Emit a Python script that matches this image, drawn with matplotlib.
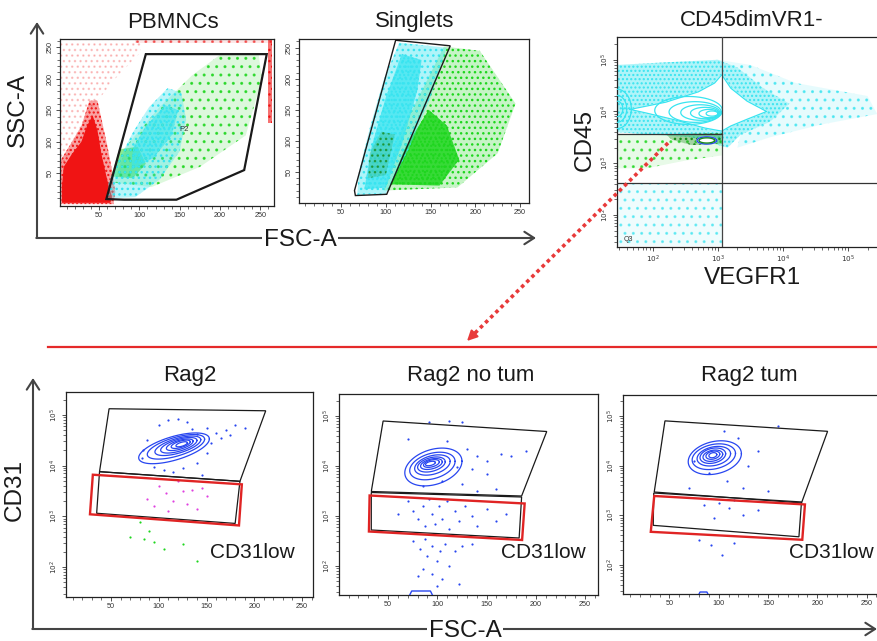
import numpy as np
import matplotlib
matplotlib.use("Agg")
import matplotlib.pyplot as plt
from matplotlib.patches import Polygon
from matplotlib.colors import to_rgba

plt.rcParams['font.family'] = ['Liberation Sans', 'DejaVu Sans']
plt.rcParams['hatch.linewidth'] = 1.0

W, H = 877, 641

RED = '#f01414'
CYAN = '#38e4f0'
GREEN = '#1ed61e'
DKGREEN = '#1c8c1c'
BLUE = '#2846f0'
MAGENTA = '#e040e0'
GATE_RED = '#e02424'

# ---- PBMNCs (FSC-A vs SSC-A, linear 0-262) ----
pbmc_gate = [(108, 239), (258, 239), (230, 55), (146, 8), (81, 8), (59, 9)]
pbmc_red_sparse = [(2, 60), (30, 110), (45, 160), (70, 200), (100, 240), (105, 262),
                   (2, 262)]
pbmc_red_halo = [(2, 1), (68, 1), (70, 20), (66, 55), (60, 95), (54, 130), (48, 165),
                 (38, 165), (28, 125), (14, 95), (2, 70)]
pbmc_red_core = [(4, 3), (64, 3), (66, 12), (60, 40), (53, 80), (48, 118), (42, 142),
                 (35, 125), (28, 100), (16, 80), (6, 60), (4, 30)]
pbmc_red_right = [(259, 130), (265, 130), (265, 263), (259, 263)]
pbmc_red_top = [(95, 257), (265, 257), (265, 263), (95, 263)]
pbmc_cyan_halo = [(60, 10), (95, 12), (125, 40), (150, 85), (158, 135), (152, 178),
                  (135, 185), (112, 155), (92, 115), (72, 65), (62, 35)]
pbmc_cyan_core = [(90, 55), (118, 75), (140, 110), (148, 150), (132, 158), (108, 125), (92, 90)]
pbmc_green_halo = [(68, 35), (115, 28), (175, 60), (232, 110), (252, 200), (248, 238),
                   (200, 238), (165, 205), (125, 155), (85, 95)]
pbmc_green_core = [(65, 45), (92, 42), (108, 65), (98, 92), (75, 88)]

# ---- Singlets ----
sing_gate = [(111, 262), (172, 253), (101, 14), (66, 12), (65, 20)]
sing_cyan_halo = [(68, 13), (100, 15), (125, 85), (150, 170), (168, 250), (115, 258),
                  (98, 200), (82, 120), (70, 50)]
sing_cyan_core = [(76, 22), (100, 25), (118, 95), (135, 180), (140, 230), (118, 240),
                  (100, 170), (84, 90)]
sing_green_halo = [(98, 20), (180, 25), (225, 80), (245, 160), (205, 245), (165, 252),
                   (140, 180), (112, 100)]
sing_green_core = [(105, 30), (160, 28), (182, 70), (168, 125), (148, 150), (122, 90)]
sing_dkgreen = [(80, 40), (100, 45), (110, 110), (95, 115), (82, 80)]

# ---- CD45 vs VEGFR1 (values in decades) ----
cd_cyan_dense = [(1.45, 3.6), (1.45, 4.9), (2.2, 4.95), (3.0, 5.0), (3.3, 4.85),
                 (3.7, 4.45), (4.1, 4.15), (3.8, 3.8), (3.35, 3.55), (3.15, 3.3), (2.6, 3.5)]
cd_cyan_sparse = [(3.0, 5.0), (3.5, 4.9), (4.2, 4.55), (5.3, 4.3), (5.45, 3.95), (4.6, 3.75),
                  (3.8, 3.5), (3.3, 3.3), (3.35, 3.55), (3.8, 3.8), (4.1, 4.15), (3.7, 4.45),
                  (3.3, 4.85)]
cd_cyan_low = [(1.45, 1.4), (3.06, 1.4), (3.06, 2.62), (1.45, 2.62)]
cd_outer = [(1.65, 4.04), (2.2, 4.18), (2.7, 4.38), (2.95, 4.55), (3.06, 4.71), (3.2, 4.45),
            (3.45, 4.2), (3.75, 4.0), (3.45, 3.85), (3.2, 3.72), (3.06, 3.62), (2.8, 3.68),
            (2.3, 3.85), (1.9, 3.97)]
cd_ell_cx = [2.55, 2.65, 2.73, 2.8, 2.86, 2.91]
cd_ell_cy = [4.02, 3.99, 3.98, 3.97, 3.96, 3.96]
cd_ell_rx = [0.52, 0.40, 0.30, 0.22, 0.15, 0.09]
cd_ell_ry = [0.27, 0.20, 0.15, 0.11, 0.08, 0.05]
cd_left_rx = [0.22, 0.15, 0.09]
cd_left_ry = [0.38, 0.26, 0.15]
cd_green_sparse = [(1.45, 3.56), (3.06, 3.56), (3.06, 3.15), (2.5, 3.05), (1.9, 2.9), (1.45, 2.9)]
cd_green_dense = [(2.2, 3.56), (3.06, 3.58), (3.06, 3.38), (2.6, 3.35), (2.3, 3.45)]
cd_vgate = 3.06
cd_hgate_hi = 3.56
cd_hgate_lo = 2.62

# ---- Rag2 panels (FSC-A vs CD31 decades) ----
rag2_gate = [(48, 5.12), (212, 5.08), (185, 3.69), (38, 3.88)]
rag2_low = [(38, 3.88), (185, 3.69), (180, 2.86), (35, 3.06)]
rag2_red = [(31, 3.82), (187, 3.63), (184, 2.82), (28, 3.04)]
rag2_cx = [116, 118, 120, 121, 122, 123, 124]
rag2_cy = [4.34, 4.37, 4.39, 4.40, 4.41, 4.42, 4.42]
rag2_rx = [37, 30, 24, 19, 14, 10, 6]
rag2_ry = [0.24, 0.19, 0.15, 0.12, 0.09, 0.065, 0.04]
rag2_blue = [(100, 4.8), (130, 4.85), (150, 4.75), (160, 4.65), (170, 4.7), (140, 4.62),
             (165, 4.55), (88, 4.5), (84, 4.3), (95, 3.97), (105, 3.92), (125, 3.96),
             (140, 4.05), (150, 4.25), (175, 4.6), (180, 4.8), (190, 4.75), (110, 4.9),
             (82, 4.15), (135, 4.72), (155, 4.45), (115, 3.88), (145, 3.82), (120, 4.92)]
rag2_magenta = [(108, 3.45), (115, 3.3), (125, 3.5), (135, 3.52), (150, 3.4), (95, 3.2),
                (110, 3.1), (130, 3.25), (145, 3.56), (100, 3.6), (120, 3.7), (140, 3.15), (88, 3.35)]
rag2_green = [(80, 2.88), (90, 2.72), (85, 2.55), (95, 2.5), (105, 2.35), (125, 2.45),
              (140, 2.12), (70, 2.6)]

notum_gate = [(45, 4.9), (211, 4.69), (185.5, 3.4), (33, 3.49)]
notum_low = [(33, 3.47), (185.5, 3.38), (183, 2.56), (33, 2.72)]
notum_red = [(31.3, 3.41), (188.6, 3.25), (186, 2.52), (30.6, 2.69)]
notum_cx = [96, 95, 95, 94, 94, 94, 93]
notum_cy = [3.98, 4.0, 4.02, 4.03, 4.04, 4.05, 4.05]
notum_rx = [29, 23, 18, 14, 11, 8, 5]
notum_ry = [0.36, 0.26, 0.19, 0.14, 0.10, 0.07, 0.04]
notum_blue = [(92, 4.88), (112, 4.9), (125, 4.88), (70, 4.55), (110, 4.5), (130, 4.35),
              (140, 4.2), (150, 4.1), (165, 4.25), (175, 4.2), (120, 3.98), (135, 3.95),
              (150, 3.85), (105, 3.7), (125, 3.65), (85, 3.6), (160, 3.55), (140, 3.5), (190, 4.3),
              (60, 3.05), (70, 3.3), (75, 3.1), (80, 2.95), (85, 3.2), (88, 2.8), (92, 3.35),
              (95, 3.05), (98, 2.85), (102, 3.2), (105, 2.95), (110, 3.3), (112, 2.75),
              (118, 3.1), (122, 2.9), (128, 3.2), (135, 3.0), (140, 2.8), (150, 3.15),
              (160, 2.9), (170, 3.05), (75, 2.5), (82, 2.35), (88, 2.55), (90, 2.2),
              (95, 2.4), (100, 2.1), (103, 2.3), (108, 2.45), (112, 2.0), (118, 2.3),
              (125, 2.4), (85, 1.95), (95, 1.85), (105, 1.75), (122, 1.65), (80, 1.8),
              (135, 2.45), (100, 1.6)]
notum_base = [(72, 1.42), (74, 1.5), (93, 1.5), (95, 1.42)]

tum_gate = [(45.4, 4.9), (210.5, 4.69), (184, 3.25), (34.5, 3.47)]
tum_low = [(34, 3.45), (184, 3.27), (181.4, 2.57), (33.5, 2.8)]
tum_red = [(34.5, 3.39), (187.5, 3.22), (184.8, 2.51), (31, 2.67)]
tum_cx = [96, 95, 95, 94, 94, 94, 94]
tum_cy = [4.16, 4.18, 4.19, 4.2, 4.2, 4.21, 4.21]
tum_rx = [27, 22, 17, 13, 10, 7, 4]
tum_ry = [0.33, 0.25, 0.19, 0.15, 0.11, 0.08, 0.05]
tum_blue = [(105, 4.7), (120, 4.55), (160, 4.8), (140, 4.3), (75, 4.1), (130, 4.0),
            (90, 3.85), (108, 3.7), (125, 3.55), (150, 3.5), (70, 3.55), (85, 3.2),
            (100, 3.25), (110, 3.15), (115, 3.3), (125, 3.0), (95, 2.95), (140, 3.1),
            (80, 2.5), (92, 2.4), (103, 2.2), (115, 2.45)]
tum_base = [(80, 1.42), (81, 1.46), (88, 1.46), (89, 1.42)]

lin_ticks = [50, 100, 150, 200, 250]
dec_ticks = [2, 3, 4, 5]


def px_rect(l, t, r, b):
    return [l / W, 1 - b / H, (r - l) / W, (b - t) / H]


def cloud(ax, verts, color, alpha, hatch=None, z=1, hatch_alpha=1.0):
    ax.add_patch(Polygon(verts, closed=True, fc=to_rgba(color, alpha),
                         ec=to_rgba(color, hatch_alpha), lw=0, hatch=hatch, zorder=z))


def gate(ax, verts, color='#1a1a1a', lw=1.0, z=4):
    ax.add_patch(Polygon(verts, closed=True, fill=False, ec=color, lw=lw, zorder=z))


def egg(cx, cy, rx, ry, shear=0.0, n=80):
    t = np.linspace(0, 2 * np.pi, n)
    x = cx + rx * np.cos(t)
    y = cy + ry * np.sin(t) + shear * rx * np.cos(t)
    return x, y


def contours(ax, cxs, cys, rxs, rys, color, shear=0.0, lw=0.9):
    x0, y0 = egg(cxs[0], cys[0], rxs[0], rys[0], shear)
    ax.fill(x0, y0, color='white', zorder=2)
    for cx, cy, rx, ry in zip(cxs, cys, rxs, rys):
        x, y = egg(cx, cy, rx, ry, shear)
        ax.plot(x, y, color=color, lw=lw, zorder=3)


def style(ax, xlim, ylim, xlog=False, ylog=False):
    for axis, log, rot, lim in ((ax.xaxis, xlog, 0, xlim), (ax.yaxis, ylog, 90, ylim)):
        if log:
            axis.set_ticks(dec_ticks)
            axis.set_ticklabels(['$10^{%d}$' % d for d in dec_ticks], rotation=rot)
            minor = [d + np.log10(k) for d in range(1, 6) for k in range(2, 10)]
        else:
            axis.set_ticks(lin_ticks)
            axis.set_ticklabels([str(v) for v in lin_ticks], rotation=rot)
            minor = [v for v in range(10, 270, 10) if v % 50]
        axis.set_ticks([m for m in minor if lim[0] < m < lim[1]], minor=True)
    ax.set_xlim(xlim)
    ax.set_ylim(ylim)
    for lab in ax.get_yticklabels():
        lab.set_va('center')
    ax.tick_params(which='major', direction='out', length=3, width=0.6, labelsize=5.2,
                   pad=1.5, colors='#333333')
    ax.tick_params(which='minor', direction='out', length=2, width=0.5, colors='#333333')
    for sp in ax.spines.values():
        sp.set_linewidth(0.9)
        sp.set_color('#222222')


fig = plt.figure(figsize=(W / 100, H / 100), dpi=100)

# PBMNCs
ax1 = fig.add_axes(px_rect(60, 39, 274, 206))
cloud(ax1, pbmc_red_sparse, RED, 0.0, '...', hatch_alpha=0.22)
cloud(ax1, pbmc_red_halo, RED, 0.4, '....')
cloud(ax1, pbmc_red_core, RED, 1.0)
cloud(ax1, pbmc_red_right, RED, 0.6, '...')
cloud(ax1, pbmc_red_top, RED, 0.1, '..', hatch_alpha=0.5)
cloud(ax1, pbmc_green_halo, GREEN, 0.15, '..', hatch_alpha=0.8)
cloud(ax1, pbmc_green_core, GREEN, 0.5, '...')
cloud(ax1, pbmc_cyan_halo, CYAN, 0.35, '...', z=1.5)
cloud(ax1, pbmc_cyan_core, CYAN, 0.6, '....', z=1.6)
gate(ax1, pbmc_gate, lw=1.6)
ax1.text(156, 120, 'P2', fontsize=5.5, ha='center', va='center', color='#333333', zorder=5)
style(ax1, (1.5, 267), (-2, 263))

# Singlets
ax2 = fig.add_axes(px_rect(299, 39, 529, 203))
cloud(ax2, sing_green_halo, GREEN, 0.25, '...')
cloud(ax2, sing_green_core, GREEN, 0.85, '....')
cloud(ax2, sing_cyan_halo, CYAN, 0.4, '...', z=1.5)
cloud(ax2, sing_cyan_core, CYAN, 0.75, '....', z=1.6)
cloud(ax2, sing_dkgreen, DKGREEN, 0.2, '...', z=1.7, hatch_alpha=0.7)
gate(ax2, sing_gate, lw=1.0)
style(ax2, (3, 260), (0, 264))

# CD45dimVR1-
ax3 = fig.add_axes(px_rect(617, 37, 900, 247))
cloud(ax3, cd_cyan_dense, CYAN, 0.4, '....')
cloud(ax3, cd_cyan_sparse, CYAN, 0.12, '..', hatch_alpha=0.7)
cloud(ax3, cd_cyan_low, CYAN, 0.08, '..', hatch_alpha=0.6)
cloud(ax3, cd_green_sparse, GREEN, 0.1, '..', hatch_alpha=0.7)
cloud(ax3, cd_green_dense, DKGREEN, 0.35, '...')
ox, oy = zip(*cd_outer)
ax3.fill(ox, oy, color='white', zorder=2)
ax3.plot(list(ox) + [ox[0]], list(oy) + [oy[0]], color=CYAN, lw=0.9, zorder=3)
for cx, cy, rx, ry in zip(cd_ell_cx, cd_ell_cy, cd_ell_rx, cd_ell_ry):
    x, y = egg(cx, cy, rx, ry)
    ax3.plot(x, y, color=CYAN, lw=0.9, zorder=3)
for rx, ry in zip(cd_left_rx, cd_left_ry):
    x, y = egg(1.45, 4.05, rx, ry)
    ax3.plot(x, y, color=CYAN, lw=0.9, zorder=3)
x, y = egg(2.83, 3.44, 0.15, 0.07)
ax3.fill(x, y, color='white', zorder=2)
ax3.plot(x, y, color=BLUE, lw=1.0, zorder=3)
x, y = egg(2.83, 3.44, 0.12, 0.05)
ax3.plot(x, y, color=DKGREEN, lw=1.0, zorder=3)
ax3.axvline(cd_vgate, color='#444444', lw=0.9, zorder=4)
ax3.plot([1.4, cd_vgate], [cd_hgate_hi, cd_hgate_hi], color='#333333', lw=0.9, zorder=4)
ax3.axhline(cd_hgate_lo, color='#333333', lw=0.9, zorder=4)
ax3.text(1.55, 1.5, 'Q3', fontsize=5, color='#333333', zorder=5)
style(ax3, (1.45, 5.8), (1.38, 5.44), xlog=True, ylog=True)

# Rag2 panels
panels = [
    (px_rect(66, 392, 313, 597), (2.9, 261.5), (1.41, 5.45), rag2_gate, rag2_low, rag2_red,
     (rag2_cx, rag2_cy, rag2_rx, rag2_ry, 0.005), None),
    (px_rect(339, 394, 598, 595), (0.25, 263), (1.42, 5.44), notum_gate, notum_low, notum_red,
     (notum_cx, notum_cy, notum_rx, notum_ry, 0.004), notum_base),
    (px_rect(623, 395, 880, 594), (2.8, 263.7), (1.42, 5.42), tum_gate, tum_low, tum_red,
     (tum_cx, tum_cy, tum_rx, tum_ry, 0.003), tum_base),
]
bottom_axes = []
for rect, xl, yl, g_up, g_low, g_red, ctr, base in panels:
    ax = fig.add_axes(rect)
    cxs, cys, rxs, rys, sh = ctr
    contours(ax, cxs, cys, rxs, rys, BLUE, shear=sh)
    gate(ax, g_up, lw=0.9)
    gate(ax, g_low, lw=0.9)
    gate(ax, g_red, color=GATE_RED, lw=1.7, z=4.5)
    if base is not None:
        bx, by = zip(*base)
        ax.plot(bx, by, color=BLUE, lw=1.0, zorder=3)
    style(ax, xl, yl, ylog=True)
    bottom_axes.append(ax)

for ax, pts, col in ((bottom_axes[0], rag2_blue, BLUE), (bottom_axes[0], rag2_magenta, MAGENTA),
                     (bottom_axes[0], rag2_green, GREEN), (bottom_axes[1], notum_blue, BLUE),
                     (bottom_axes[2], tum_blue, BLUE)):
    px_, py_ = zip(*pts)
    ax.scatter(px_, py_, s=2.5, color=col, lw=0, zorder=3.5)

# overlay for labels and arrows (pixel coordinates)
ov = fig.add_axes([0, 0, 1, 1], zorder=10)
ov.set_xlim(0, W)
ov.set_ylim(H, 0)
ov.axis('off')
ov.patch.set_alpha(0)

AX_COL = '#444444'
arrow = dict(arrowstyle='->,head_length=0.7,head_width=0.45', lw=1.5, color=AX_COL,
             shrinkA=0, shrinkB=0)
ov.annotate('', xy=(37, 22), xytext=(37, 238), arrowprops=arrow)
ov.annotate('', xy=(536, 238), xytext=(36.3, 238), arrowprops=arrow)
ov.annotate('', xy=(33, 378), xytext=(33, 629), arrowprops=arrow)
ov.annotate('', xy=(877, 629), xytext=(32.3, 629), arrowprops=arrow)

txt = dict(color='#1a1a1a', ha='center', va='center')
ov.text(18, 110, 'SSC-A', fontsize=17.5, rotation=90, **txt)
ov.text(300, 240, 'FSC-A', fontsize=17.5, bbox=dict(fc='white', ec='none', pad=1), **txt)
ov.text(15, 490, 'CD31', fontsize=17.5, rotation=90, **txt)
ov.text(465, 631, 'FSC-A', fontsize=17.5, bbox=dict(fc='white', ec='none', pad=1), **txt)
ov.text(585, 140, 'CD45', fontsize=17.5, rotation=90, **txt)
ov.text(752, 278, 'VEGFR1', fontsize=17.5, **txt)

ov.text(173, 22, 'PBMNCs', fontsize=16, **txt)
ov.text(415, 22, 'Singlets', fontsize=16, **txt)
ov.text(752, 20, 'CD45dimVR1-', fontsize=16, **txt)
ov.text(190, 375, 'Rag2', fontsize=16, **txt)
ov.text(471, 376, 'Rag2 no tum', fontsize=16, **txt)
ov.text(749, 376, 'Rag2 tum', fontsize=16, **txt)

ov.text(252, 553, 'CD31low', fontsize=15, **txt)
ov.text(543, 553, 'CD31low', fontsize=15, **txt)
ov.text(831, 553, 'CD31low', fontsize=15, **txt)

# red dotted link and separator
ov.plot([668, 474], [143, 334], color='#e83a3a', lw=2.6, ls=(0, (1, 1)))
ov.annotate('', xy=(467, 341), xytext=(476, 332),
            arrowprops=dict(arrowstyle='-|>,head_length=0.6,head_width=0.3', color='#e83a3a',
                            lw=1.5, shrinkA=0, shrinkB=0))
ov.plot([48, 877], [347, 347], color='#e52a2a', lw=1.6)

fig.savefig('out.png', dpi=100)
